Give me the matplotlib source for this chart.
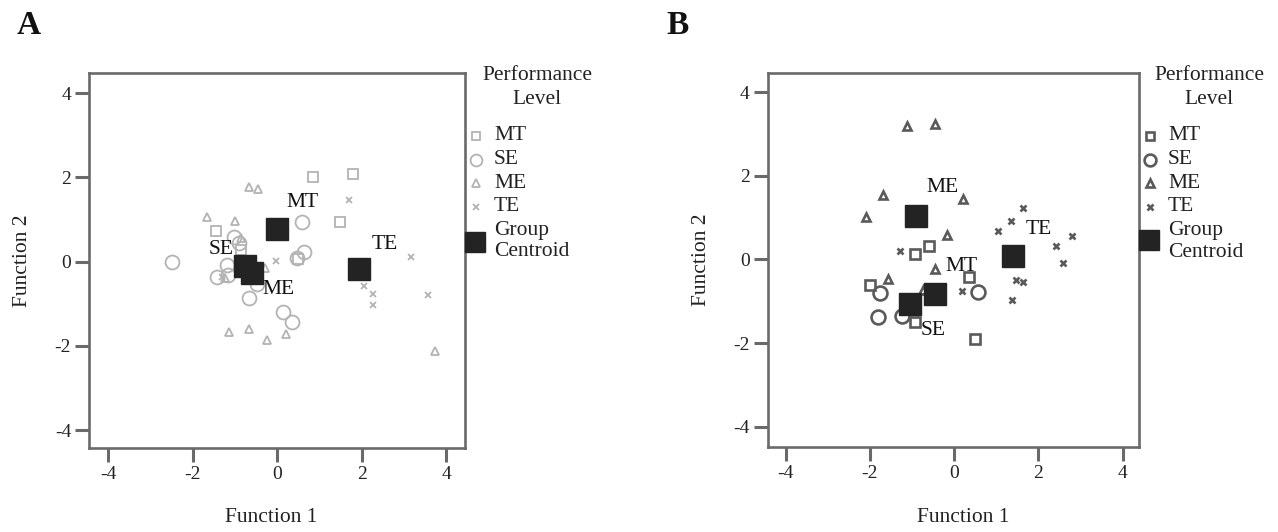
import matplotlib
matplotlib.use("Agg")
import matplotlib.pyplot as plt
from matplotlib.lines import Line2D

plt.rcParams['font.family'] = ['Liberation Serif', 'DejaVu Serif']

# ---------------- data ----------------
groups = ["MT", "SE", "ME", "TE"]

# Panel A
a_mt_x = [0.85, 1.80, 1.48, -1.46, -0.87, 0.48]
a_mt_y = [2.00, 2.08, 0.93, 0.73, 0.28, 0.06]
a_se_x = [-2.50, 0.59, -1.02, 0.62, 0.46, -1.43, -1.16, -1.18, -0.66, 0.14, 0.34, -0.47, -0.90]
a_se_y = [0.00, 0.94, 0.58, 0.24, 0.08, -0.36, -0.32, -0.08, -0.87, -1.20, -1.43, -0.53, 0.45]
a_me_x = [-1.67, -1.00, -0.66, -0.45, -0.87, -1.14, -0.66, -0.25, 0.21, 3.73, -0.29, -1.24]
a_me_y = [1.07, 0.97, 1.78, 1.73, 0.56, -1.66, -1.60, -1.86, -1.72, -2.12, -0.16, -0.39]
a_te_x = [1.70, -0.03, 3.16, 2.06, 2.26, 2.26, 3.57, -1.32]
a_te_y = [1.47, 0.02, 0.12, -0.58, -0.77, -1.03, -0.78, -0.36]
a_cent_x = [0.00, -0.76, -0.61, 1.94]
a_cent_y = [0.77, -0.10, -0.26, -0.18]
a_lab_x = [0.60, -1.32, 0.02, 2.55]
a_lab_y = [1.40, 0.29, -0.67, 0.41]

# Panel B
b_mt_x = [-0.59, -0.93, -1.99, 0.36, -0.93, 0.49]
b_mt_y = [0.33, 0.13, -0.61, -0.41, -1.49, -1.91]
b_se_x = [-1.77, -1.81, -1.23, 0.57]
b_se_y = [-0.81, -1.38, -1.35, -0.79]
b_me_x = [-1.11, -0.46, -1.69, 0.20, -2.10, -0.18, -0.46, -1.58, -0.74]
b_me_y = [3.18, 3.23, 1.54, 1.45, 1.02, 0.59, -0.23, -0.47, -0.73]
b_te_x = [-1.29, 1.03, 1.36, 1.63, 2.42, 2.79, 2.59, 1.47, 1.63, 1.38, 0.18]
b_te_y = [0.19, 0.68, 0.92, 1.22, 0.31, 0.55, -0.08, -0.49, -0.55, -0.97, -0.75]
b_cent_x = [-0.46, -1.05, -0.91, 1.39]
b_cent_y = [-0.83, -1.06, 1.04, 0.09]
b_lab_x = [0.18, -0.50, -0.28, 2.00]
b_lab_y = [-0.16, -1.70, 1.73, 0.71]

ticks = [-4, -2, 0, 2, 4]
tick_labels = ["-4", "-2", "0", "2", "4"]
xlabel = "Function 1"
ylabel = "Function 2"

# ---------------- figure ----------------
W, H = 1278, 532
fig = plt.figure(figsize=(W / 100, H / 100), dpi=100)


def fx(px):
    return px / W


def fy(py):
    return 1 - py / H


FRAME = "#6a6a6a"
CENT = "#232323"
FS = 15.5

marker_specs = {
    "MT": dict(marker="s", ms=7.5),
    "SE": dict(marker="o", ms=10.0),
    "ME": dict(marker="^", ms=6.0),
    "TE": dict(marker="x", ms=5.0),
}


def make_panel(rect, xlim, ylim, pts, cent_x, cent_y, lab_x, lab_y,
               mcol, mlw, letter, letter_xy, ylab_x, xlab_xy, leg):
    ax = fig.add_axes(rect)
    for g, (xs, ys) in zip(groups, pts):
        spec = marker_specs[g]
        ax.plot(xs, ys, linestyle="none", marker=spec["marker"], ms=spec["ms"],
                mfc="none", mec=mcol, mew=mlw, zorder=3)
    ax.plot(cent_x, cent_y, linestyle="none", marker="s", ms=16,
            mfc=CENT, mec=CENT, zorder=4)
    for g, x, y in zip(groups, lab_x, lab_y):
        ax.text(x, y, g, ha="center", va="center", fontsize=FS, color="#111", zorder=5)
    ax.set_xlim(*xlim)
    ax.set_ylim(*ylim)
    ax.set_xticks(ticks)
    ax.set_xticklabels(tick_labels)
    ax.set_yticks(ticks)
    ax.set_yticklabels(tick_labels)
    ax.tick_params(direction="out", length=10, width=2.2, color=FRAME,
                   labelsize=14, pad=3, labelcolor="#222")
    for s in ax.spines.values():
        s.set_color(FRAME)
        s.set_linewidth(1.9)

    x0, y0, w, h = rect
    fig.text(fx(xlab_xy[0]), fy(xlab_xy[1]), xlabel, ha="center", va="center",
             fontsize=FS, color="#222")
    fig.text(fx(ylab_x), y0 + h / 2, ylabel, rotation=90, ha="center", va="center",
             fontsize=FS, color="#222")
    fig.text(fx(letter_xy[0]), fy(letter_xy[1]), letter, fontsize=24, fontweight="bold",
             ha="left", va="baseline", color="#111")

    # legend (manual)
    tx, mx, txt_x, rows = leg
    fig.text(fx(tx), fy(75.7), "Performance", ha="center", va="center", fontsize=FS, color="#222")
    fig.text(fx(tx), fy(99.5), "Level", ha="center", va="center", fontsize=FS, color="#222")
    for g, ry in zip(groups, rows[:4]):
        spec = marker_specs[g]
        fig.add_artist(Line2D([fx(mx)], [fy(ry)], transform=fig.transFigure,
                              linestyle="none", marker=spec["marker"], ms=spec["ms"] * 0.85,
                              mfc="none", mec=mcol, mew=mlw))
        fig.text(fx(txt_x), fy(ry), g, ha="left", va="center", fontsize=FS, color="#222")
    fig.add_artist(Line2D([fx(mx - 1)], [fy(rows[6])], transform=fig.transFigure,
                          linestyle="none", marker="s", ms=15, mfc=CENT, mec=CENT, zorder=5))
    fig.text(fx(txt_x), fy(rows[4]), "Group", ha="left", va="center", fontsize=FS, color="#222")
    fig.text(fx(txt_x), fy(rows[5]), "Centroid", ha="left", va="center", fontsize=FS, color="#222")
    return ax


make_panel([fx(89.3), fy(448.3), (465 - 89.3) / W, (448.3 - 73.3) / H],
           (-4.45, 4.44), (-4.43, 4.47),
           [(a_mt_x, a_mt_y), (a_se_x, a_se_y), (a_me_x, a_me_y), (a_te_x, a_te_y)],
           a_cent_x, a_cent_y, a_lab_x, a_lab_y,
           "#b3b3b3", 1.3, "A", (17, 34), 23, (271, 518),
           (537, 476, 494, [136, 160, 183, 206.7, 230.7, 251.7, 241.7]))

make_panel([fx(767.7), fy(446.7), (1139 - 767.7) / W, (446.7 - 73.3) / H],
           (-4.43, 4.39), (-4.48, 4.45),
           [(b_mt_x, b_mt_y), (b_se_x, b_se_y), (b_me_x, b_me_y), (b_te_x, b_te_y)],
           b_cent_x, b_cent_y, b_lab_x, b_lab_y,
           "#5a5a5a", 1.9, "B", (666, 34), 701, (963, 518),
           (1209, 1150, 1168, [136, 160, 183.3, 206.7, 230.7, 252.7, 240]))

fig.savefig("out.png", dpi=100)
